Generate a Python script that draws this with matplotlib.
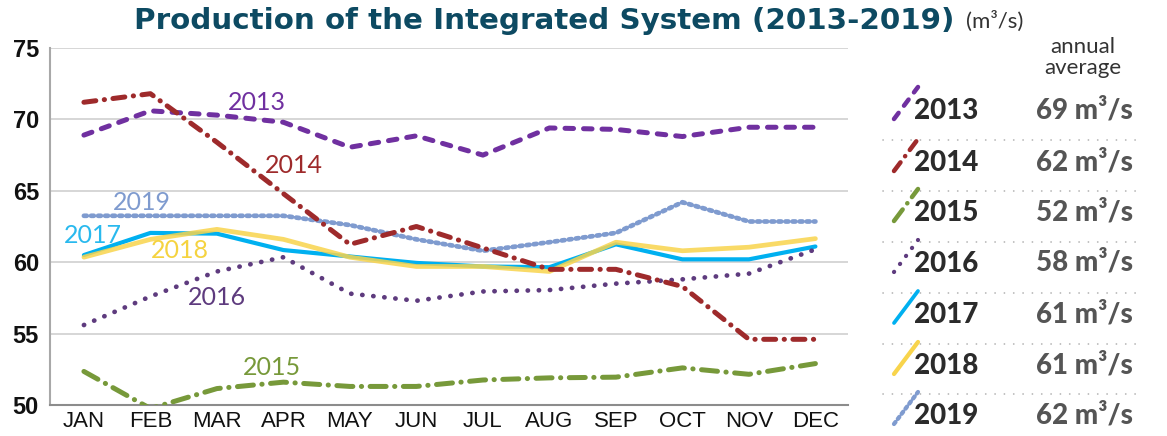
import matplotlib
matplotlib.use('Agg')
import matplotlib.pyplot as plt
from matplotlib.lines import Line2D

# ---------------- data ----------------
months = ['JAN', 'FEB', 'MAR', 'APR', 'MAY', 'JUN', 'JUL', 'AUG', 'SEP', 'OCT', 'NOV', 'DEC']
years = ['2013', '2014', '2015', '2016', '2017', '2018', '2019']
y2013 = [68.9, 70.6, 70.3, 69.8, 68.05, 68.85, 67.5, 69.4, 69.3, 68.8, 69.45, 69.45]
y2014 = [71.2, 71.8, 68.4, 64.8, 61.25, 62.5, 61.0, 59.5, 59.5, 58.3, 54.6, 54.6]
y2015 = [52.35, 49.75, 51.15, 51.6, 51.3, 51.3, 51.75, 51.9, 51.95, 52.6, 52.15, 52.9]
y2016 = [55.6, 57.6, 59.35, 60.35, 57.8, 57.3, 57.95, 58.05, 58.5, 58.8, 59.2, 60.9]
y2017 = [60.5, 62.05, 62.0, 60.85, 60.4, 59.95, 59.7, 59.65, 61.25, 60.2, 60.2, 61.1]
y2018 = [60.35, 61.6, 62.3, 61.6, 60.35, 59.7, 59.7, 59.35, 61.4, 60.8, 61.05, 61.65]
y2019 = [63.25, 63.25, 63.25, 63.25, 62.6, 61.6, 60.8, 61.4, 62.05, 64.2, 62.85, 62.85]
series = [y2013, y2014, y2015, y2016, y2017, y2018, y2019]
annual_avg = [69, 62, 52, 58, 61, 61, 62]
yticks = [50, 55, 60, 65, 70, 75]

# ---------------- styles ----------------
colors = {'2013': '#7030A0', '2014': '#9E2A2B', '2015': '#77993A', '2016': '#5E3B7E',
          '2017': '#00B0F0', '2018': '#F8D44C', '2019': '#7F9BCF'}
dashes = {'2013': (1.7, 2.0), '2014': (2.4, 1.7, 0.05, 1.7), '2015': (3.2, 1.7, 0.05, 1.7),
          '2016': (0.05, 2.3), '2017': None, '2018': None, '2019': (0.6, 0.9)}
widths = {'2013': 3.6, '2014': 3.6, '2015': 3.6, '2016': 3.4, '2017': 3.0, '2018': 3.4, '2019': 3.4}
alphas = {'2013': 1, '2014': 1, '2015': 1, '2016': 1, '2017': 1, '2018': 0.85, '2019': 1}
zorders = {'2019': 3, '2017': 4, '2018': 5, '2016': 6, '2013': 7, '2015': 8, '2014': 9}

W, H = 1167, 436
fig = plt.figure(figsize=(W / 100, H / 100), dpi=100)
fig.patch.set_facecolor('white')


def fx(px):
    return px / W


def fy(py):
    return 1 - py / H


ax = fig.add_axes([fx(50), fy(405), (848 - 50) / W, (405 - 48) / H])
ax.set_xlim(-0.51, 11.49)
ax.set_ylim(50, 75)

x = list(range(len(months)))


def style_line(line, yr):
    if dashes[yr] is not None:
        line.set_dashes(dashes[yr])
        line.set_dash_capstyle('round')
    line.set_solid_capstyle('round')
    line.set_solid_joinstyle('round')


for yr, vals in zip(years, series):
    ln, = ax.plot(x, vals, color=colors[yr], lw=widths[yr], alpha=alphas[yr], zorder=zorders[yr])
    style_line(ln, yr)

# axes styling
ax.set_yticks(yticks)
ax.set_yticklabels([str(v) for v in yticks], fontsize=17, fontweight='bold',
                   family=['Liberation Sans', 'DejaVu Sans'], color='#111111')
ax.set_xticks(x)
ax.set_xticklabels(months, fontsize=16, family=['Liberation Sans Narrow', 'Liberation Sans', 'DejaVu Sans'],
                   color='#111111')
ax.tick_params(axis='both', length=0)
ax.tick_params(axis='y', pad=8)
ax.tick_params(axis='x', pad=4)
ax.grid(axis='y', color='#D3D3D3', lw=1.3, zorder=0)
ax.set_axisbelow(True)
for s in ['top', 'right']:
    ax.spines[s].set_visible(False)
ax.spines['left'].set_color('#A8A8A8')
ax.spines['left'].set_linewidth(1.5)
ax.spines['bottom'].set_color('#8C8C8C')
ax.spines['bottom'].set_linewidth(1.5)

# in-chart labels
lab_font = ['Lato', 'DejaVu Sans']
labels = {'2013': (2.6, 71.2), '2014': (3.15, 66.75), '2019': (0.87, 64.15), '2017': (0.14, 61.9),
          '2018': (1.44, 60.85), '2016': (2.0, 57.5), '2015': (2.83, 52.65)}
label_colors = dict(colors)
label_colors['2017'] = '#29B9EE'
label_colors['2018'] = '#F5D340'
for yr, (lx, ly) in labels.items():
    ax.text(lx, ly, yr, ha='center', va='center', fontsize=18, family=lab_font,
            color=label_colors[yr], zorder=10)

# title
fig.text(fx(134), fy(21), 'Production of the Integrated System (2013-2019)', ha='left', va='center',
         fontsize=21.2, fontweight='bold', family=['DejaVu Sans'], color='#0D4A62')
fig.text(fx(966), fy(21), '(m³/s)', ha='left', va='center', fontsize=16,
         family=lab_font, color='#333333')

# right-side legend table
fig.text(fx(1083), fy(47), 'annual', ha='center', va='center', fontsize=16, family=lab_font, color='#333333')
fig.text(fx(1083), fy(68), 'average', ha='center', va='center', fontsize=16, family=lab_font, color='#333333')

row_y = [110, 162, 212, 263, 314, 365, 415]
for i, (yr, avg) in enumerate(zip(years, annual_avg)):
    cy = row_y[i]
    icon = Line2D([fx(894), fx(918)], [fy(cy + 9), fy(cy - 23)], transform=fig.transFigure,
                  color=colors[yr], lw=widths[yr] * 0.9)
    style_line(icon, yr)
    fig.add_artist(icon)
    fig.text(fx(914), fy(cy + 1), yr, ha='left', va='center', fontsize=20, fontweight='black',
             family=lab_font, color='#2B2B2B')
    fig.text(fx(1036), fy(cy), f'{avg} m³/s', ha='left', va='center', fontsize=20, fontweight='black',
             family=lab_font, color='#555555')
    if i < len(years) - 1:
        sep_y = (row_y[i] + row_y[i + 1]) / 2 + 4
        sep = Line2D([fx(883), fx(1138)], [fy(sep_y), fy(sep_y)], transform=fig.transFigure,
                     color='#B0B0B0', lw=1.2, dashes=(0.1, 5.5), dash_capstyle='round')
        fig.add_artist(sep)

fig.savefig('out.png', dpi=100, facecolor='white')
